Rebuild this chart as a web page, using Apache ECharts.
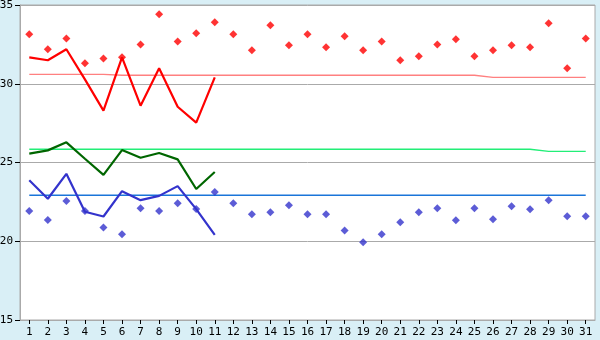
<!DOCTYPE html>
<html><head><meta charset="utf-8">
<script src="https://cdn.jsdelivr.net/npm/echarts@6/dist/echarts.min.js"></script>
<style>html,body{margin:0;padding:0;background:#d9eff6;}#c{width:600px;height:340px;}</style>
</head><body><div id="c"></div>
<script>
var days = ['1','2','3','4','5','6','7','8','9','10','11','12','13','14','15','16','17','18','19','20','21','22','23','24','25','26','27','28','29','30','31'];
var yTicks = [15, 20, 25, 30, 35];
var redDots = [33.14,32.19,32.88,31.30,31.61,31.68,32.50,34.41,32.69,33.20,33.90,33.14,32.12,33.71,32.44,33.14,32.31,33.01,32.12,32.69,31.49,31.74,32.50,32.82,31.74,32.12,32.44,32.31,33.84,30.98,32.88];
var redLine = [31.68,31.49,32.19,30.28,28.29,31.68,28.61,30.98,28.54,27.53,30.41];
var redAvg = [30.60,30.60,30.60,30.60,30.60,30.54,30.54,30.54,30.54,30.54,30.54,30.54,30.54,30.54,30.54,30.54,30.54,30.54,30.54,30.54,30.54,30.54,30.54,30.54,30.54,30.41,30.41,30.41,30.41,30.41,30.41];
var greenLine = [25.56,25.77,26.28,25.24,24.21,25.79,25.30,25.60,25.20,23.32,24.40];
var greenAvg = [25.84,25.84,25.84,25.84,25.84,25.84,25.84,25.84,25.84,25.84,25.84,25.84,25.84,25.84,25.84,25.84,25.84,25.84,25.84,25.84,25.84,25.84,25.84,25.84,25.84,25.84,25.84,25.84,25.71,25.71,25.71];
var blueLine = [23.87,22.70,24.28,21.87,21.57,23.18,22.61,22.88,23.50,22.04,20.40];
var blueDots = [21.92,21.35,22.56,21.92,20.88,20.44,22.09,21.92,22.42,22.04,23.12,22.41,21.71,21.84,22.28,21.71,21.71,20.69,19.93,20.44,21.20,21.84,22.09,21.33,22.09,21.39,22.22,22.03,22.60,21.58,21.58];
var blueAvg = [22.92,22.92,22.92,22.92,22.92,22.92,22.92,22.92,22.92,22.92,22.92,22.92,22.92,22.92,22.92,22.92,22.92,22.92,22.92,22.92,22.92,22.92,22.92,22.92,22.92,22.92,22.92,22.92,22.92,22.92,22.92];

var chart = echarts.init(document.getElementById('c'), null, {renderer:'canvas'});
var font = {fontFamily:'DejaVu Sans Mono', fontSize:11, color:'#000'};
function thin(d, c){ return {type:'line', data:d, symbol:'none', silent:true, lineStyle:{width:1.3, color:c}, z:2}; }
function thick(d, c){ return {type:'line', data:d, symbol:'none', silent:true, lineStyle:{width:2.2, color:c}, z:3}; }
function dots(d, c){ return {type:'scatter', data:d, symbol:'diamond', symbolSize:8, itemStyle:{color:c}, z:4}; }
chart.setOption({
  animation:false,
  backgroundColor:'#d9eff6',
  grid:{left:20, right:5, top:5, bottom:20, containLabel:false, outerBoundsMode:'none', show:true, backgroundColor:'#ffffff', borderColor:'#aaaaaa', borderWidth:1},
  xAxis:{type:'category', data:days, boundaryGap:true,
    axisLine:{show:true, onZero:false, lineStyle:{color:'#aaaaaa'}},
    axisTick:{show:true, alignWithLabel:true, interval:0, length:4, lineStyle:{color:'#000000', width:1}},
    axisLabel:Object.assign({margin:7, interval:0}, font),
    splitLine:{show:false}},
  yAxis:{type:'value', min:yTicks[0], max:yTicks[yTicks.length-1], interval:5,
    axisLine:{show:true, onZero:false, lineStyle:{color:'#aaaaaa'}},
    axisTick:{show:true, inside:false, length:5, lineStyle:{color:'#000000', width:1}},
    axisLabel:Object.assign({margin:7}, font),
    splitLine:{show:true, lineStyle:{color:'#aaaaaa', width:1}}},
  series:[
    thin(redAvg, '#ff8080'),
    thin(greenAvg, '#22ee77'),
    thin(blueAvg, '#1a75d9'),
    thick(redLine, '#ff0000'),
    thick(greenLine, '#006600'),
    thick(blueLine, '#3333cc'),
    dots(redDots, '#ff0000'),
    dots(blueDots, '#3333cc')
  ]
});
</script></body></html>
